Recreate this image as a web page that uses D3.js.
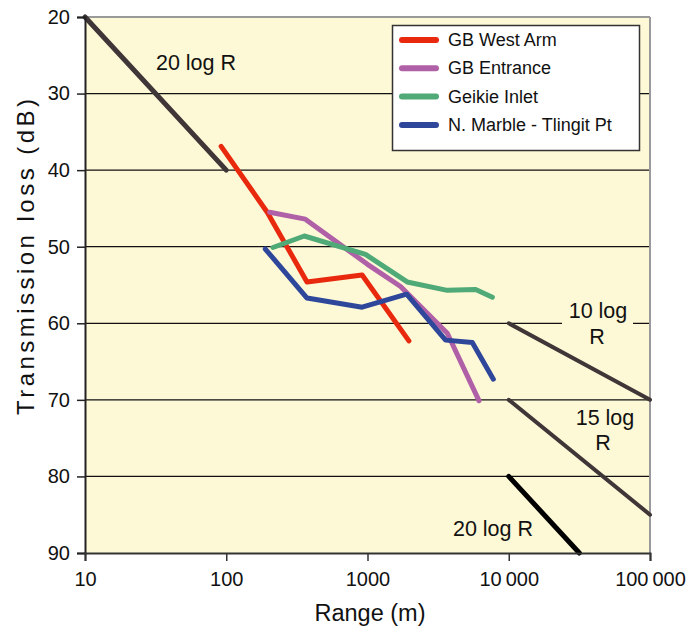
<!DOCTYPE html>
<html>
<head>
<meta charset="utf-8">
<script src="https://cdn.jsdelivr.net/npm/d3@7"></script>
<style>
body{margin:0;background:#fff;}
text{font-family:"Liberation Sans",Arial,Helvetica,sans-serif;fill:#111;}
</style>
</head>
<body>
<svg id="chart" width="689" height="627"></svg>
<script>
// ---- data ----
const xTicks = [10, 100, 1000, 10000, 100000];
const xTickLabels = ["10", "100", "1000", "10\u2009000", "100\u2009000"];
const yTicks = [20, 30, 40, 50, 60, 70, 80, 90];
const seriesNames = ["GB West Arm", "GB Entrance", "Geikie Inlet", "N. Marble - Tlingit Pt"];
const seriesColors = ["#e8290e", "#b060a6", "#4faa78", "#2e479b"];
const westArm = [[92, 36.9], [195, 45.5], [373, 54.6], [916, 53.7], [1964, 62.3]];
const entrance = [[203, 45.5], [363, 46.4], [1000, 52.3], [1714, 55.2], [3673, 61.3], [6151, 70.1]];
const geikie = [[214, 50.1], [357, 48.6], [968, 51.0], [1909, 54.6], [3673, 55.7], [5834, 55.6], [7656, 56.6]];
const marble = [[189, 50.3], [373, 56.7], [916, 57.9], [1892, 56.2], [3573, 62.2], [5521, 62.5], [7780, 67.3]];
const refLines = [
  {name: "20 log R", pts: [[10, 20], [100, 40]], color: "#3e3637", w: 5},
  {name: "10 log R", pts: [[10000, 60], [100000, 70]], color: "#3e3637", w: 4},
  {name: "15 log R", pts: [[10000, 70], [100000, 85]], color: "#3e3637", w: 4},
  {name: "20 log R", pts: [[10000, 80], [31623, 90]], color: "#000000", w: 5}
];

// ---- layout ----
const L = 85, R = 650, T = 17, B = 553;
const x = d3.scaleLog().domain([10, 100000]).range([L, R]);
const y = d3.scaleLinear().domain([20, 90]).range([T, B]);
const svg = d3.select("#chart");

svg.append("rect").attr("x", L).attr("y", T).attr("width", R - L).attr("height", B - T).attr("fill", "#fdf8d6");

// gridlines
svg.append("g").selectAll("line").data(yTicks.filter(v => v > 20 && v < 90)).join("line")
  .attr("x1", L).attr("x2", R).attr("y1", d => y(d)).attr("y2", d => y(d))
  .attr("stroke", "#111").attr("stroke-width", 1.2);

// borders
svg.append("line").attr("x1", L).attr("x2", R).attr("y1", T).attr("y2", T).attr("stroke", "#9a9a9a").attr("stroke-width", 2);
svg.append("line").attr("x1", R).attr("x2", R).attr("y1", T).attr("y2", B).attr("stroke", "#9a9a9a").attr("stroke-width", 2);

// label background for 10 log R (breaks gridline)
svg.append("rect").attr("x", 562).attr("y", y(60) - 3).attr("width", 71).attr("height", 6).attr("fill", "#fdf8d6");

// reference lines
const line = d3.line().x(d => x(d[0])).y(d => y(d[1]));
refLines.forEach(r => {
  svg.append("path").attr("d", line(r.pts)).attr("fill", "none")
    .attr("stroke", r.color).attr("stroke-width", r.w).attr("stroke-linecap", "round");
});

// data series
[westArm, entrance, geikie, marble].forEach((s, i) => {
  svg.append("path").attr("d", line(s)).attr("fill", "none")
    .attr("stroke", seriesColors[i]).attr("stroke-width", 5)
    .attr("stroke-linecap", "round").attr("stroke-linejoin", "round");
});

// axes
const yAxis = d3.axisLeft(y).tickValues(yTicks).tickSize(8).tickPadding(7);
const gy = svg.append("g").attr("transform", `translate(${L},0)`).call(yAxis);
gy.select(".domain").attr("stroke", "#222").attr("stroke-width", 2);
gy.selectAll(".tick line").attr("stroke", "#222").attr("stroke-width", 1.5);
gy.selectAll("text").attr("font-size", 20).style("fill", "#111");

const xAxis = d3.axisBottom(x).tickValues(xTicks).tickFormat((d, i) => xTickLabels[i]).tickSize(8).tickPadding(11);
const gx = svg.append("g").attr("transform", `translate(0,${B})`).call(xAxis);
gx.select(".domain").attr("stroke", "#333").attr("stroke-width", 2);
gx.selectAll(".tick line").attr("stroke", "#333").attr("stroke-width", 1.5);
gx.selectAll("text").attr("font-size", 20).style("fill", "#111");

// axis titles
svg.append("text").attr("x", 370).attr("y", 621).attr("text-anchor", "middle").attr("font-size", 23.5).text("Range (m)");
svg.append("text").attr("transform", "translate(34,257) rotate(-90)").attr("text-anchor", "middle")
  .attr("font-size", 24).attr("textLength", 316).attr("lengthAdjust", "spacing").text("Transmission loss (dB)");

// reference line labels
const lbl = (t, cx, cy) => svg.append("text").attr("x", cx).attr("y", cy).attr("text-anchor", "middle").attr("font-size", 21.5).text(t);
lbl("20 log R", 196, 70);
lbl("10 log", 598, 318);
lbl("R", 597, 344);
lbl("15 log", 605, 425);
lbl("R", 603, 450);
lbl("20 log R", 493, 536);

// legend
const lg = svg.append("g");
lg.append("rect").attr("x", 392.5).attr("y", 25.5).attr("width", 247).attr("height", 125)
  .attr("fill", "#fff").attr("stroke", "#333").attr("stroke-width", 1.5);
seriesNames.forEach((n, i) => {
  const yy = 40 + i * 28.3;
  lg.append("line").attr("x1", 402).attr("x2", 436).attr("y1", yy).attr("y2", yy)
    .attr("stroke", seriesColors[i]).attr("stroke-width", 6).attr("stroke-linecap", "round");
  lg.append("text").attr("x", 448).attr("y", yy + 6).attr("font-size", 18).text(n);
});
</script>
</body>
</html>
